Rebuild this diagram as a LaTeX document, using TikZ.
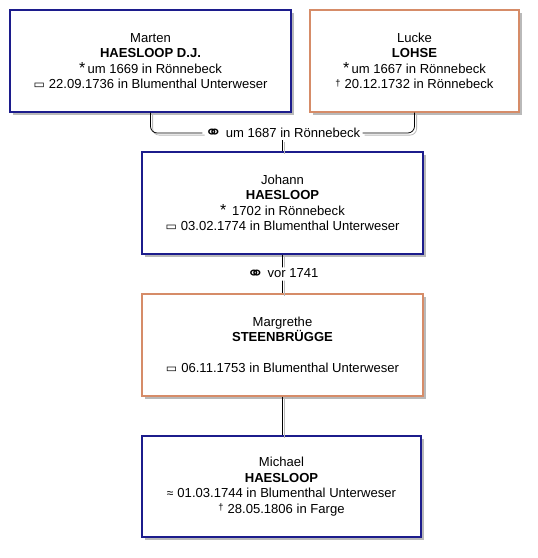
\documentclass[tikz,border=0pt]{standalone}
\usepackage{fontspec}
\setmainfont{Liberation Sans}
\newfontfamily\symfont{DejaVu Sans}
\usetikzlibrary{shadows}
\definecolor{ManBlue}{RGB}{28,28,140}
\definecolor{WomanRed}{RGB}{214,140,104}
\definecolor{LinkGray}{RGB}{185,185,185}
\newcommand{\born}{{\large*}\,}
\newcommand{\died}{\raisebox{.35ex}{\scriptsize †}\hspace{3pt}}
\newcommand{\burial}{{\symfont\small ▭}\hspace{3pt}}
\newcommand{\bapt}{{\small ≈}\hspace{3pt}}
\newcommand{\wed}{\raisebox{-0.2ex}{\scalebox{1.6}[1.35]{\symfont ⚭}}}

\tikzset{
	person/.style={draw, line width=0.9pt, fill=white, align=center, inner sep=0pt,
		minimum width=210.75pt, minimum height=76.5pt,
		font=\fontsize{9.8}{11.6}\selectfont,
		drop shadow={shadow xshift=2.2pt, shadow yshift=-2.2pt, fill=LinkGray, opacity=1}},
	man/.style={person, draw=ManBlue},
	woman/.style={person, draw=WomanRed},
	link/.style={line width=0.6pt, rounded corners=5pt,
		preaction={draw=LinkGray, line width=0.6pt, transform canvas={shift={(1.6pt,-1.6pt)}}}},
	wedlabel/.style={fill=white, inner xsep=1.5pt, inner ysep=1pt, font=\fontsize{9.8}{11.6}\selectfont}
}

\begin{document}
\begin{tikzpicture}[x=0.75pt, y=-0.75pt]
	\useasboundingbox (0,0) rectangle (538,558);
	% parents
	\node[man] (marten) at (150.5,61) {Marten\\\textbf{HAESLOOP D.J.}\\\born um 1669 in Rönnebeck\\\burial 22.09.1736 in Blumenthal Unterweser};
	\node[woman, minimum width=156.75pt] (lucke) at (414.5,61) {Lucke\\\textbf{LOHSE}\\\born um 1667 in Rönnebeck\\\died 20.12.1732 in Rönnebeck};
	% children
	\node[man] (johann) at (282.5,203) {Johann\\\textbf{HAESLOOP}\\\born\ 1702 in Rönnebeck\\\burial 03.02.1774 in Blumenthal Unterweser};
	\node[woman] (margrethe) at (282.5,345) {Margrethe\\\textbf{STEENBRÜGGE}\\\mbox{}\\\burial 06.11.1753 in Blumenthal Unterweser};
	\node[man, minimum width=209.25pt, minimum height=75.75pt] (michael) at (281.5,486.5) {Michael\\\textbf{HAESLOOP}\\\bapt 01.03.1744 in Blumenthal Unterweser\\\died 28.05.1806 in Farge};
	% marriages
	\node[wedlabel] (wed1) at (282.5,133) {\wed\ um 1687 in Rönnebeck};
	\draw[link] (marten.south) |- (wed1.west);
	\draw[link] (wed1.east) -| (lucke.south);
	\draw[link] (wed1.south) -- (johann.north);
	\draw[link] (johann.south) -- node[wedlabel] (wed2) {\wed\ vor 1741} (margrethe.north);
	\draw[link] (margrethe.south) -- (margrethe.south |- michael.north);
\end{tikzpicture}
\end{document}
